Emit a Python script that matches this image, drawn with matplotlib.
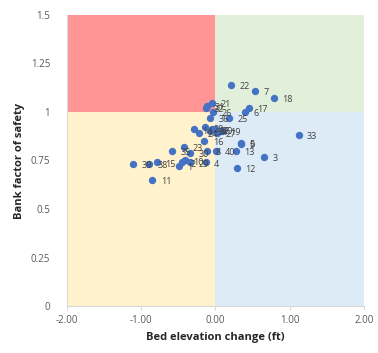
import matplotlib
matplotlib.use('Agg')
import matplotlib.pyplot as plt

# ── 資料 ──────────────────────────────────────────────────────────────────────
site_ids = [1, 2, 3, 4, 5, 6, 7, 8, 9, 10,
            11, 12, 13, 14, 15, 16, 17, 18, 19, 20,
            21, 22, 23, 24, 25, 26, 27, 28, 29, 30,
            31, 32, 33, 34, 35, 36, 37, 38, 39, 40]
bed_change = [-0.49, -0.45, 0.66, -0.13, 0.34, 0.40, 0.53, -0.11, 0.35, -0.41,
              -0.85, 0.29, 0.27, -0.29, -0.79, -0.15, 0.45, 0.79, 0.09, -0.01,
              -0.05, 0.21, -0.42, -0.22, 0.18, -0.03, 0.02, -0.14, -0.34, -0.34,
              -0.12, -0.13, 1.12, -0.08, -0.58, -0.07, -0.05, -0.89, -1.11, 0.01]
bank_fs = [0.72, 0.74, 0.77, 0.74, 0.84, 1.00, 1.11, 0.80, 0.835, 0.75,
           0.65, 0.71, 0.80, 0.91, 0.74, 0.85, 1.02, 1.07, 0.90, 0.91,
           1.045, 1.14, 0.82, 0.89, 0.97, 1.00, 0.89, 0.92, 0.74, 0.79,
           1.03, 1.02, 0.88, 0.90, 0.80, 0.97, 0.91, 0.73, 0.73, 0.80]

x_ticks = [-2, -1, 0, 1, 2]
y_ticks = [0, 0.25, 0.5, 0.75, 1, 1.25, 1.5]
y_labels = ['0', '0.25', '0.5', '0.75', '1', '1.25', '1.5']

# ── 繪圖 ──────────────────────────────────────────────────────────────────────
plt.rcParams['font.family'] = ['Open Sans', 'DejaVu Sans']

fig = plt.figure(figsize=(3.78, 3.53), dpi=100)
ax = fig.add_axes([0.177, 0.133, 0.786, 0.825])

# 四個象限底色
ax.axhspan(1, 1.5, xmin=0, xmax=0.5, color='#FF9595', lw=0, zorder=0)
ax.axhspan(1, 1.5, xmin=0.5, xmax=1, color='#E2EFDA', lw=0, zorder=0)
ax.axhspan(0, 1, xmin=0, xmax=0.5, color='#FFF2CC', lw=0, zorder=0)
ax.axhspan(0, 1, xmin=0.5, xmax=1, color='#DDEBF7', lw=0, zorder=0)

ax.scatter(bed_change, bank_fs, s=28, color='#4472C4', zorder=3, lw=0)
for sid, x, y in zip(site_ids, bed_change, bank_fs):
    ax.annotate(str(sid), (x, y), xytext=(6, -3), textcoords='offset points',
                fontsize=6.5, color='#404040', zorder=4)

ax.set_xlim(-2, 2)
ax.set_ylim(0, 1.5)
ax.set_xticks(x_ticks)
ax.set_xticklabels([f'{v:.2f}' for v in x_ticks])
ax.set_yticks(y_ticks)
ax.set_yticklabels(y_labels)
ax.tick_params(labelsize=7, colors='#595959', length=3, color='#D9D9D9')
ax.tick_params(axis='y', length=0, pad=12)

for side in ['top', 'right']:
    ax.spines[side].set_visible(False)
for side in ['left', 'bottom']:
    ax.spines[side].set_color('#D9D9D9')

ax.set_xlabel('Bed elevation change (ft)', fontsize=8, fontweight='bold', color='#262626')
ax.set_ylabel('Bank factor of safety', fontsize=8, fontweight='bold', color='#262626')

plt.savefig('out.png', dpi=100)
